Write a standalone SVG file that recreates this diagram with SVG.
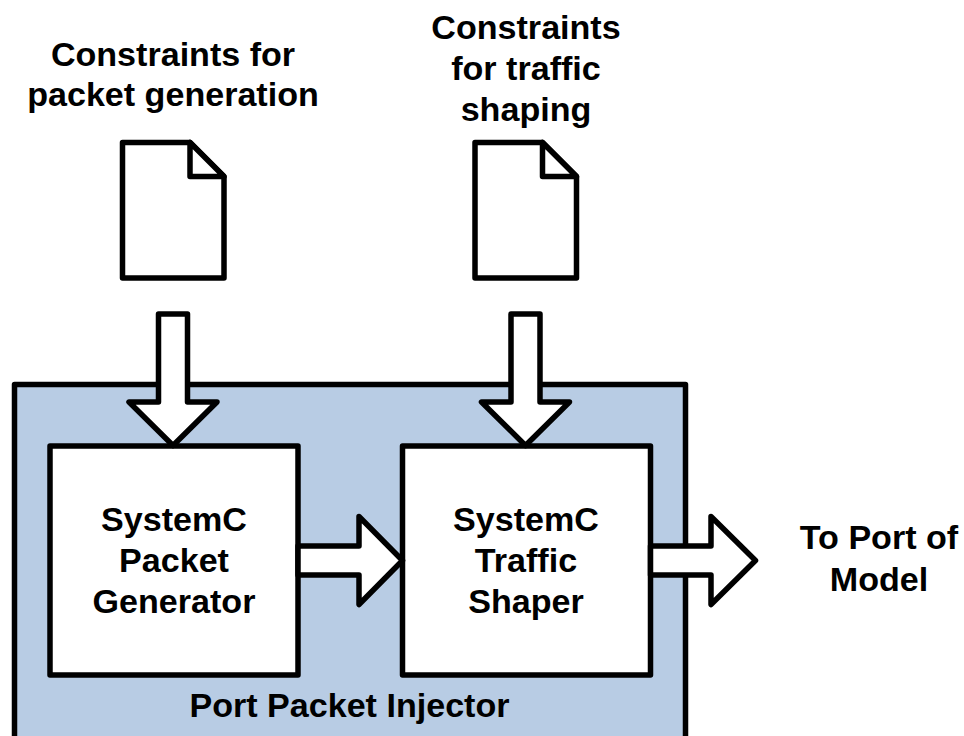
<svg xmlns="http://www.w3.org/2000/svg" width="964" height="736" viewBox="0 0 964 736">
<style>
.s{stroke:#000;stroke-width:5.500;stroke-linejoin:round;fill:#fff}
.t{font-family:"Liberation Sans",Arial,sans-serif;font-weight:700;font-size:34.100px;text-anchor:middle;fill:#000}
</style>
<rect width="964" height="736" fill="#fff"/>
<g id="injector"><rect x="14.500" y="384.500" width="671" height="356" class="s" style="fill:#b8cce4"/><text class="t" x="349.500" y="717">Port Packet Injector</text></g>
<g id="doc1"><path class="s" d="M122.500 142.500H190L224 176.500V278H122.500Z"/><path class="s" d="M190 142.500V176.500H224Z"/></g>
<g id="doc2"><path class="s" d="M475 142.500H542.500L576.500 176.500V278H475Z"/><path class="s" d="M542.500 142.500V176.500H576.500Z"/></g>
<g id="label1"><text class="t" x="173" y="66">Constraints for</text><text class="t" x="173" y="106">packet generation</text></g>
<g id="label2"><text class="t" x="526" y="39">Constraints</text><text class="t" x="526" y="80">for traffic</text><text class="t" x="526" y="121">shaping</text></g>
<g id="generator"><rect class="s" x="50" y="446" width="248" height="229"/><text class="t" x="174" y="531">SystemC</text><text class="t" x="174" y="572">Packet</text><text class="t" x="174" y="613">Generator</text></g>
<g id="shaper"><rect class="s" x="402.500" y="446" width="248" height="229"/><text class="t" x="526" y="531">SystemC</text><text class="t" x="526" y="572">Traffic</text><text class="t" x="526" y="613">Shaper</text></g>
<g id="output"><text class="t" x="879" y="549">To Port of</text><text class="t" x="879" y="591">Model</text></g>
<g id="connectors">
<path class="s" d="M158.500 314H187.500V402H217L173 445.500L129 402H158.500Z"/>
<path class="s" d="M511 314H540V402H569.500L525.500 445.500L481.500 402H511Z"/>
<path class="s" d="M298 546H359V516.500L402.500 560.500L359 604.500V575H298Z"/>
<path class="s" d="M650.500 546H711V516.500L755.500 560.500L711 604.500V575H650.500Z"/>
</g>
</svg>
